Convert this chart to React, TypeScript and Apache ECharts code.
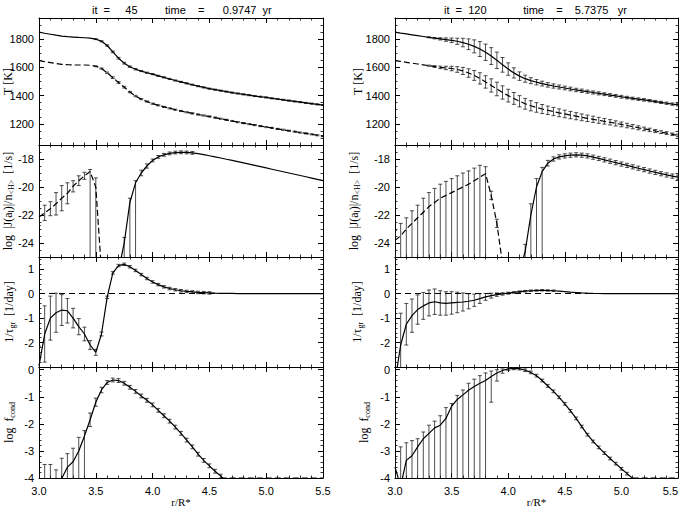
import React, { useEffect, useRef } from "react";
import * as echarts from "echarts";

// ---------------- data ----------------
const radius = [
  3.0, 3.05, 3.1, 3.15, 3.2, 3.25, 3.3, 3.35, 3.4, 3.45,
  3.5, 3.55, 3.6, 3.65, 3.7, 3.75, 3.8, 3.85, 3.9, 3.95,
  4.0, 4.05, 4.1, 4.15, 4.2, 4.25, 4.3, 4.35, 4.4, 4.45,
  4.5, 4.55, 4.6, 4.65, 4.7, 4.75, 4.8, 4.85, 4.9, 4.95,
  5.0, 5.05, 5.1, 5.15, 5.2, 5.25, 5.3, 5.35, 5.4, 5.45,
  5.5,
];

const N = null;

// --- left column (it = 45) ---
const tempGasL = [
  1850, 1842, 1835, 1828, 1822, 1818, 1815, 1812, 1810, 1807,
  1800, 1785, 1755, 1710, 1665, 1630, 1605, 1587, 1574, 1562,
  1552, 1540, 1529, 1518, 1507, 1497, 1487, 1477, 1467, 1458,
  1449, 1442, 1435, 1428, 1421, 1415, 1409, 1403, 1397, 1392,
  1387, 1381, 1376, 1370, 1365, 1359, 1354, 1348, 1343, 1338,
  1333,
];
const tempDustL = [
  1648, 1641, 1634, 1627, 1622, 1619, 1617, 1617, 1617, 1615,
  1608, 1592, 1562, 1527, 1493, 1460, 1425, 1397, 1375, 1358,
  1343, 1331, 1320, 1310, 1300, 1291, 1282, 1274, 1266, 1259,
  1252, 1244, 1236, 1228, 1220, 1212, 1205, 1198, 1191, 1184,
  1177, 1171, 1164, 1158, 1151, 1145, 1138, 1132, 1126, 1119,
  1113,
];
const tempErrL = [
  N, N, N, N, N, N, N, N, N, N,
  3, 4, 5, 6, 6, 6, 5, 5, 4, 4,
  4, 4, 4, 4, 4, 4, 4, 4, 4, 4,
  4, 4, 4, 4, 4, 4, 4, 4, 4, 4,
  4, 4, 4, 4, 4, 4, 4, 4, 4, 4,
  4,
];
const nucPosL = [
  N, N, N, N, N, N, N, N, N, N,
  N, N, N, N, -26, -24.0, -21.1, -19.7, -19.0, -18.5,
  -18.1, -17.85, -17.7, -17.6, -17.54, -17.52, -17.53, -17.56, -17.62, -17.69,
  -17.77, -17.85, -17.93, -18.02, -18.1, -18.19, -18.28, -18.37, -18.46, -18.55,
  -18.64, -18.73, -18.82, -18.91, -19.0, -19.09, -19.18, -19.27, -19.36, -19.45,
  -19.54,
];
const nucPosUpL = [
  N, N, N, N, N, N, N, N, N, N,
  N, N, N, N, N, 0.4, 0.3, 0.15, 0.2, 0.15,
  0.1, 0.1, 0.1, 0.1, 0.1, 0.1, 0.1, 0.1, N, N,
  N, N, N, N, N, N, N, N, N, N,
  N, N, N, N, N, N, N, N, N, N,
  N,
];
const nucPosDnL = [
  N, N, N, N, N, N, N, N, N, N,
  N, N, N, N, N, 6, 6, 6, 0.2, 0.15,
  0.1, 0.1, 0.1, 0.1, 0.1, 0.1, 0.1, 0.1, N, N,
  N, N, N, N, N, N, N, N, N, N,
  N, N, N, N, N, N, N, N, N, N,
  N,
];
const nucNegL = [
  -22.15, -21.85, -21.55, -21.2, -20.8, -20.45, -19.95, -19.55, -19.2, -18.9,
  -20.0, -26, N, N, N, N, N, N, N, N,
  N, N, N, N, N, N, N, N, N, N,
  N, N, N, N, N, N, N, N, N, N,
  N, N, N, N, N, N, N, N, N, N,
  N,
];
const nucNegUpL = [
  0.6, 0.55, 0.5, 0.8, 0.9, 0.75, 0.4, 0.35, 0.25, 0.15,
  0.65, N, N, N, N, N, N, N, N, N,
  N, N, N, N, N, N, N, N, N, N,
  N, N, N, N, N, N, N, N, N, N,
  N, N, N, N, N, N, N, N, N, N,
  N,
];
const nucNegDnL = [
  0.6, 0.55, 0.5, 0.8, 0.9, 0.75, 0.4, 0.35, 0.25, 7,
  7, N, N, N, N, N, N, N, N, N,
  N, N, N, N, N, N, N, N, N, N,
  N, N, N, N, N, N, N, N, N, N,
  N, N, N, N, N, N, N, N, N, N,
  N,
];
const growthL = [
  -2.95, -1.65, -1.0, -0.78, -0.67, -0.7, -1.0, -1.35, -1.65, -2.1,
  -2.4, -1.65, -0.15, 0.85, 1.15, 1.2, 1.1, 0.95, 0.78, 0.62,
  0.48, 0.37, 0.28, 0.21, 0.16, 0.12, 0.09, 0.07, 0.05, 0.04,
  0.03, 0.02, 0.015, 0.01, 0.008, 0.005, 0.003, 0.002, 0.001, 0,
  0, 0, 0, 0, 0, 0, 0, 0, 0, 0,
  0,
];
const growthErrL = [
  0.8, 1.15, 0.9, 0.8, 0.63, 0.5, 0.4, 0.33, 0.28, 0.18,
  0.12, 0.08, 0.05, 0.05, 0.05, 0.05, 0.05, 0.05, 0.05, 0.05,
  0.05, 0.05, 0.05, 0.05, 0.05, 0.05, 0.05, 0.05, 0.05, 0.05,
  0.05, N, N, N, N, N, N, N, N, N,
  N, N, N, N, N, N, N, N, N, N,
  N,
];
const fcondL = [
  -5.0, -4.6, -4.4, -4.2, -4.02, -3.6, -3.4, -3.0, -2.45, -1.85,
  -1.2, -0.75, -0.47, -0.38, -0.4, -0.5, -0.65, -0.8, -0.97, -1.13,
  -1.3, -1.5, -1.7, -1.9, -2.12, -2.35, -2.6, -2.85, -3.12, -3.35,
  -3.55, -3.75, -3.93, -4.12, N, N, N, N, N, N,
  N, N, N, N, N, N, N, N, N, N,
  N,
];
const fcondUpL = [
  N, 1.1, 0.9, 0.5, 0.75, 0.5, 0.5, 0.5, 0.2, 0.25,
  0.15, 0.1, 0.07, 0.07, 0.07, 0.07, 0.07, 0.07, 0.07, 0.07,
  0.07, 0.07, 0.07, 0.07, 0.07, 0.07, 0.07, 0.07, 0.07, 0.07,
  0.07, 0.07, 0.07, N, N, N, N, N, N, N,
  N, N, N, N, N, N, N, N, N, N,
  N,
];
const fcondDnL = [
  N, 3, 3, 3, 3, 3, 3, 3, 2, 0.25,
  0.15, 0.1, 0.07, 0.07, 0.07, 0.07, 0.07, 0.07, 0.07, 0.07,
  0.07, 0.07, 0.07, 0.07, 0.07, 0.07, 0.07, 0.07, 0.07, 0.07,
  0.07, 0.07, 0.07, N, N, N, N, N, N, N,
  N, N, N, N, N, N, N, N, N, N,
  N,
];
const fcondFloorL = [
  N, N, N, N, N, N, N, N, N, N,
  N, N, N, N, N, N, N, N, N, N,
  N, N, N, N, N, N, N, N, N, N,
  N, N, -4, -4, -4, -4, -4, -4, -4, -4,
  -4, -4, -4, -4, -4, -4, -4, -4, -4, -4,
  -4,
];

// --- right column (it = 120) ---
const tempGasR = [
  1850, 1843, 1837, 1831, 1825, 1819, 1813, 1807, 1802, 1797,
  1792, 1785, 1776, 1764, 1749, 1730, 1707, 1680, 1650, 1618,
  1588, 1561, 1538, 1520, 1506, 1495, 1485, 1476, 1468, 1461,
  1454, 1447, 1440, 1434, 1428, 1422, 1416, 1410, 1404, 1398,
  1392, 1386, 1380, 1375, 1370, 1364, 1358, 1352, 1346, 1340,
  1335,
];
const tempGasErrR = [
  N, N, N, N, N, N, 3, 5, 8, 12,
  16, 22, 30, 38, 46, 53, 58, 60, 58, 52,
  44, 36, 30, 25, 21, 19, 17, 16, 15, 14,
  13, 13, 12, 12, 11, 11, 11, 10, 10, 10,
  10, 9, 9, 9, 9, 8, 8, 8, 8, 8,
  8,
];
const tempDustR = [
  1648, 1642, 1636, 1630, 1624, 1618, 1612, 1606, 1600, 1596,
  1592, 1585, 1575, 1560, 1543, 1522, 1497, 1472, 1447, 1422,
  1400, 1380, 1360, 1342, 1328, 1316, 1305, 1296, 1287, 1278,
  1270, 1262, 1254, 1246, 1239, 1232, 1225, 1218, 1211, 1203,
  1196, 1188, 1180, 1172, 1164, 1157, 1149, 1141, 1134, 1126,
  1118,
];
const tempDustErrR = [
  N, N, N, N, N, N, 4, 6, 9, 12,
  16, 20, 25, 30, 35, 40, 44, 47, 48, 47,
  45, 42, 40, 38, 36, 34, 32, 30, 29, 28,
  27, 26, 25, 24, 23, 22, 21, 20, 19, 18,
  17, 16, 15, 14, 13, 12, 11, 10, 10, 9,
  9,
];
const nucPosR = [
  N, N, N, N, N, N, N, N, N, N,
  N, N, N, N, N, N, N, N, N, N,
  N, N, -26, -24.6, -22.0, -20.0, -18.9, -18.3, -18.0, -17.85,
  -17.78, -17.73, -17.7, -17.73, -17.78, -17.87, -17.96, -18.06, -18.16, -18.26,
  -18.36, -18.46, -18.56, -18.66, -18.76, -18.86, -18.96, -19.05, -19.14, -19.22,
  -19.3,
];
const nucPosUpR = [
  N, N, N, N, N, N, N, N, N, N,
  N, N, N, N, N, N, N, N, N, N,
  N, N, N, 0.5, 0.8, 0.6, 0.3, 0.2, 0.15, 0.15,
  0.15, 0.15, 0.15, 0.15, 0.15, 0.15, 0.15, 0.15, 0.15, 0.15,
  0.15, 0.15, 0.15, 0.15, 0.15, 0.15, 0.15, 0.15, 0.15, 0.15,
  0.15,
];
const nucPosDnR = [
  N, N, N, N, N, N, N, N, N, N,
  N, N, N, N, N, N, N, N, N, N,
  N, N, N, 8, 8, 8, 8, 0.2, 0.15, 0.15,
  0.15, 0.15, 0.15, 0.15, 0.15, 0.15, 0.15, 0.15, 0.15, 0.15,
  0.15, 0.15, 0.15, 0.15, 0.15, 0.15, 0.15, 0.15, 0.15, 0.15,
  0.15,
];
const nucNegR = [
  -23.8, -23.5, -23.0, -22.6, -22.2, -21.8, -21.4, -21.1, -20.8, -20.6,
  -20.4, -20.2, -20.0, -19.8, -19.55, -19.3, -19.05, -20.6, -22.6, -25.5,
  N, N, N, N, N, N, N, N, N, N,
  N, N, N, N, N, N, N, N, N, N,
  N, N, N, N, N, N, N, N, N, N,
  N,
];
const nucNegUpR = [
  0.7, 0.9, 0.8, 0.9, 0.9, 1.0, 1.0, 1.0, 1.0, 1.0,
  1.0, 1.0, 1.0, 0.95, 0.9, 0.85, 0.5, 0.3, 0.3, N,
  N, N, N, N, N, N, N, N, N, N,
  N, N, N, N, N, N, N, N, N, N,
  N, N, N, N, N, N, N, N, N, N,
  N,
];
const nucNegDnR = [
  8, 8, 8, 8, 8, 8, 8, 8, 8, 8,
  8, 8, 8, 8, 8, 8, 8, 0.3, 0.3, N,
  N, N, N, N, N, N, N, N, N, N,
  N, N, N, N, N, N, N, N, N, N,
  N, N, N, N, N, N, N, N, N, N,
  N,
];
const growthR = [
  -3.6, -2.1, -1.25, -0.9, -0.65, -0.5, -0.38, -0.33, -0.38, -0.4,
  -0.38, -0.36, -0.34, -0.31, -0.27, -0.2, -0.13, -0.08, -0.04, -0.01,
  0.02, 0.05, 0.08, 0.1, 0.12, 0.13, 0.14, 0.13, 0.12, 0.1,
  0.08, 0.06, 0.045, 0.03, 0.02, 0.012, 0.006, 0.003, 0, 0,
  0, 0, 0, 0, 0, 0, 0, 0, 0, 0,
  0,
];
const growthErrR = [
  N, 1.3, 0.85, 0.68, 0.6, 0.55, 0.53, 0.52, 0.5, 0.48,
  0.46, 0.42, 0.37, 0.31, 0.25, 0.2, 0.14, 0.1, 0.07, 0.05,
  0.04, 0.03, 0.03, 0.03, 0.03, 0.03, 0.03, 0.03, 0.03, N,
  N, N, N, N, N, N, N, N, N, N,
  N, N, N, N, N, N, N, N, N, N,
  N,
];
const fcondR = [
  -3.6, -4.3, -3.35, -3.18, -2.85, -2.55, -2.35, -2.15, -2.05, -1.8,
  -1.35, -1.1, -0.93, -0.76, -0.62, -0.5, -0.4, -0.25, -0.12, -0.03,
  0.03, 0.05, 0.04, -0.02, -0.1, -0.22, -0.4, -0.6, -0.8, -1.02,
  -1.26, -1.52, -1.8, -2.1, -2.4, -2.65, -2.87, -3.08, -3.28, -3.47,
  -3.66, -3.84, -4.02, N, N, N, N, N, N, N,
  N,
];
const fcondUpR = [
  0.3, 1.45, 0.65, 0.56, 0.3, 0.25, 0.3, 0.25, 0.35, 0.4,
  0.1, 0.15, 0.18, 0.26, 0.27, 0.28, 0.28, 0.2, 0.12, 0.06,
  0.05, 0.05, 0.05, 0.05, 0.05, 0.05, 0.05, 0.05, 0.05, 0.05,
  0.05, 0.05, 0.05, 0.05, 0.05, 0.05, 0.05, 0.05, 0.05, 0.05,
  0.05, 0.05, N, N, N, N, N, N, N, N,
  N,
];
const fcondDnR = [
  5, 5, 5, 5, 5, 5, 5, 5, 5, 5,
  5, 5, 5, 5, 5, 5, 5, 0.95, 0.3, 0.1,
  0.05, 0.05, 0.05, 0.05, 0.05, 0.05, 0.05, 0.05, 0.05, 0.05,
  0.05, 0.05, 0.05, 0.05, 0.05, 0.05, 0.05, 0.05, 0.05, 0.05,
  0.05, 0.05, N, N, N, N, N, N, N, N,
  N,
];
const fcondFloorR = [
  N, N, N, N, N, N, N, N, N, N,
  N, N, N, N, N, N, N, N, N, N,
  N, N, N, N, N, N, N, N, N, N,
  N, N, N, N, N, N, N, N, N, N,
  N, N, -4, -4, -4, -4, -4, -4, -4, -4,
  -4,
];

// ---------------- axes text ----------------
const titleTexts = [
  "it\u00a0\u00a0=\u00a0\u00a0\u00a0\u00a0\u00a045\u00a0\u00a0\u00a0\u00a0\u00a0\u00a0\u00a0\u00a0\u00a0time\u00a0\u00a0\u00a0\u00a0=\u00a0\u00a0\u00a0\u00a0\u00a0\u00a00.9747\u00a0\u00a0yr",
  "it\u00a0\u00a0=\u00a0\u00a0120\u00a0\u00a0\u00a0\u00a0\u00a0\u00a0\u00a0\u00a0\u00a0\u00a0\u00a0\u00a0time\u00a0\u00a0\u00a0\u00a0=\u00a0\u00a0\u00a0\u00a05.7375\u00a0\u00a0\u00a0yr",
];
const xTickLabels = ["3.0", "3.5", "4.0", "4.5", "5.0", "5.5"];
const yTickLabels = [
  ["1200", "1400", "1600", "1800"],
  ["-24", "-22", "-20", "-18"],
  ["-2", "-1", "0", "1"],
  ["-4", "-3", "-2", "-1", "0"],
];
const yNames = [
  "T [K]",
  "log  |J(a{s|l})|/n{s|<H>}  [1/s]",
  "1/τ{s|gr}  [1/day]",
  "log  f{s|cond}",
];
const xName = "r/R*";

// ---------------- layout / style ----------------
const SANS = "'Liberation Sans', Arial, Helvetica, sans-serif";
const SERIF = "'Liberation Serif', 'Times New Roman', serif";
const colLeft = [39, 395];
const colWidth = [284, 283];
const titleX = [92, 444];
const rowTop = [18, 145, 257, 367];
const rowHeight = [127, 112, 110, 111];
const yMin = [1050, -25, -3, -4];
const yMax = [1950, -17, 1.5, 0.1];
const yMinorSplit = [4, 4, 5, 5];
const nameGaps = [
  [25, 24, 23, 23],
  [31, 34, 31, 24],
];

type Arr = (number | null)[];
type LineDef = { vals: Arr; dashed?: boolean; zero?: boolean };
type ErrDef = { vals: Arr; up: Arr; dn?: Arr };
type PanelDef = { lines: LineDef[]; errs: ErrDef[] };

const panels: PanelDef[] = [
  {
    lines: [{ vals: tempGasL }, { vals: tempDustL, dashed: true }],
    errs: [{ vals: tempGasL, up: tempErrL }, { vals: tempDustL, up: tempErrL }],
  },
  {
    lines: [{ vals: nucPosL }, { vals: nucNegL, dashed: true }],
    errs: [
      { vals: nucPosL, up: nucPosUpL, dn: nucPosDnL },
      { vals: nucNegL, up: nucNegUpL, dn: nucNegDnL },
    ],
  },
  { lines: [{ vals: growthL, zero: true }], errs: [{ vals: growthL, up: growthErrL }] },
  {
    lines: [{ vals: fcondL }, { vals: fcondFloorL, dashed: true }],
    errs: [{ vals: fcondL, up: fcondUpL, dn: fcondDnL }],
  },
  {
    lines: [{ vals: tempGasR }, { vals: tempDustR, dashed: true }],
    errs: [{ vals: tempGasR, up: tempGasErrR }, { vals: tempDustR, up: tempDustErrR }],
  },
  {
    lines: [{ vals: nucPosR }, { vals: nucNegR, dashed: true }],
    errs: [
      { vals: nucPosR, up: nucPosUpR, dn: nucPosDnR },
      { vals: nucNegR, up: nucNegUpR, dn: nucNegDnR },
    ],
  },
  { lines: [{ vals: growthR, zero: true }], errs: [{ vals: growthR, up: growthErrR }] },
  {
    lines: [{ vals: fcondR }, { vals: fcondFloorR, dashed: true }],
    errs: [{ vals: fcondR, up: fcondUpR, dn: fcondDnR }],
  },
];

function linePoints(vals: Arr) {
  const out: number[][] = [];
  radius.forEach((r, i) => {
    const v = vals[i];
    if (v !== null && v !== undefined) out.push([r, v]);
  });
  return out;
}
function errPoints(vals: Arr, up: Arr, dn?: Arr) {
  const out: number[][] = [];
  radius.forEach((r, i) => {
    const v = vals[i];
    const u = up[i];
    const d = dn ? dn[i] : up[i];
    if (v == null || u == null || d == null) return;
    out.push([r, v - d, v + u]);
  });
  return out;
}

const renderErr = (params: any, api: any) => {
  const x = api.value(0);
  const lo = api.value(1);
  const hi = api.value(2);
  const a = api.coord([x, lo]);
  const b = api.coord([x, hi]);
  const w = 2;
  const style = { stroke: "#222", lineWidth: 0.8, fill: null };
  return {
    type: "group",
    children: [
      { type: "line", shape: { x1: a[0], y1: a[1], x2: b[0], y2: b[1] }, style },
      { type: "line", shape: { x1: a[0] - w, y1: a[1], x2: a[0] + w, y2: a[1] }, style },
      { type: "line", shape: { x1: b[0] - w, y1: b[1], x2: b[0] + w, y2: b[1] }, style },
    ],
  };
};

function buildOption() {
  const grids: any[] = [];
  const xAxes: any[] = [];
  const yAxes: any[] = [];
  const series: any[] = [];
  const lineCol = { color: "#000", width: 1 };
  const tick = { show: true, inside: true, length: 5, lineStyle: lineCol };
  const xMinor = { show: true, splitNumber: 5, length: 2.5, lineStyle: { color: "#000", width: 0.8 } };

  for (let c = 0; c < 2; c++) {
    for (let r = 0; r < 4; r++) {
      const g = c * 4 + r;
      const bottom = r === 3;
      grids.push({
        left: colLeft[c], top: rowTop[r], width: colWidth[c], height: rowHeight[r],
        containLabel: false, outerBoundsMode: "none",
      });
      const yMinor = { show: true, splitNumber: yMinorSplit[r], length: 2.5, lineStyle: { color: "#000", width: 0.8 } };
      xAxes.push({
        gridIndex: g, type: "value", position: "bottom", min: 3, max: 5.5, interval: 0.5,
        axisLine: { show: true, onZero: false, lineStyle: lineCol },
        axisTick: tick, minorTick: xMinor, splitLine: { show: false },
        axisLabel: {
          show: bottom, margin: 7, fontSize: 11, color: "#000", fontFamily: SANS,
          alignMaxLabel: c === 1 ? "right" : undefined,
          formatter: (v: number) => {
            const s = v.toFixed(1);
            return xTickLabels.includes(s) ? s : "";
          },
        },
        name: bottom ? xName : "", nameLocation: "middle", nameGap: 11,
        nameTextStyle: { fontFamily: SERIF, fontSize: 11, color: "#000" },
      });
      xAxes.push({
        gridIndex: g, type: "value", position: "top", min: 3, max: 5.5, interval: 0.5,
        axisLine: { show: true, onZero: false, lineStyle: lineCol },
        axisTick: tick, minorTick: xMinor, splitLine: { show: false }, axisLabel: { show: false },
      });
      const labels = yTickLabels[r];
      yAxes.push({
        gridIndex: g, type: "value", position: "left", min: yMin[r], max: yMax[r],
        axisLine: { show: true, onZero: false, lineStyle: lineCol },
        axisTick: tick, minorTick: yMinor, splitLine: { show: false },
        axisLabel: {
          margin: 5, fontSize: 11, color: "#000", fontFamily: SANS,
          formatter: (v: number) => {
            const s = String(Math.round(v * 1000) / 1000);
            return labels.includes(s) ? s : "";
          },
        },
        name: yNames[r], nameLocation: "middle", nameRotate: 90, nameGap: nameGaps[c][r],
        nameMoveOverlap: false,
        nameTextStyle: {
          fontFamily: SERIF, fontSize: 12, color: "#000",
          rich: { s: { fontFamily: SERIF, fontSize: 8, color: "#000", padding: [6, 0, 0, 0] } },
        },
      });
      yAxes.push({
        gridIndex: g, type: "value", position: "right", min: yMin[r], max: yMax[r],
        axisLine: { show: true, onZero: false, lineStyle: lineCol },
        axisTick: tick, minorTick: yMinor, splitLine: { show: false }, axisLabel: { show: false },
      });

      const p = panels[g];
      p.errs.forEach((e) => {
        series.push({
          type: "custom", xAxisIndex: 2 * g, yAxisIndex: 2 * g, clip: true, silent: true,
          renderItem: renderErr, encode: { x: 0, y: [1, 2] },
          data: errPoints(e.vals, e.up, e.dn), z: 2,
        });
      });
      p.lines.forEach((l) => {
        const s: any = {
          type: "line", xAxisIndex: 2 * g, yAxisIndex: 2 * g, symbol: "none", showSymbol: false,
          clip: true, silent: true, z: 3,
          lineStyle: { color: "#000", width: 1.2, type: l.dashed ? [6, 3] : "solid" },
          data: linePoints(l.vals),
        };
        if (l.zero) {
          s.markLine = {
            silent: true, symbol: ["none", "none"], label: { show: false },
            lineStyle: { color: "#000", width: 1, type: [6, 4] },
            data: [{ yAxis: 0 }],
          };
        }
        series.push(s);
      });
    }
  }

  return {
    animation: false,
    backgroundColor: "#fff",
    title: titleTexts.map((t, i) => ({
      text: t, left: titleX[i], top: 4, padding: 0,
      textStyle: { fontFamily: SANS, fontSize: 11, fontWeight: "normal", color: "#000" },
    })),
    grid: grids,
    xAxis: xAxes,
    yAxis: yAxes,
    series,
  };
}

export default function App() {
  const ref = useRef<HTMLDivElement>(null);
  useEffect(() => {
    if (!ref.current) return;
    const chart = echarts.init(ref.current, undefined, { renderer: "svg" });
    chart.setOption(buildOption() as any);
    return () => chart.dispose();
  }, []);
  return (
    <div
      ref={ref}
      style={{ position: "fixed", left: 0, top: 0, width: 684, height: 507, background: "#fff" }}
    />
  );
}
